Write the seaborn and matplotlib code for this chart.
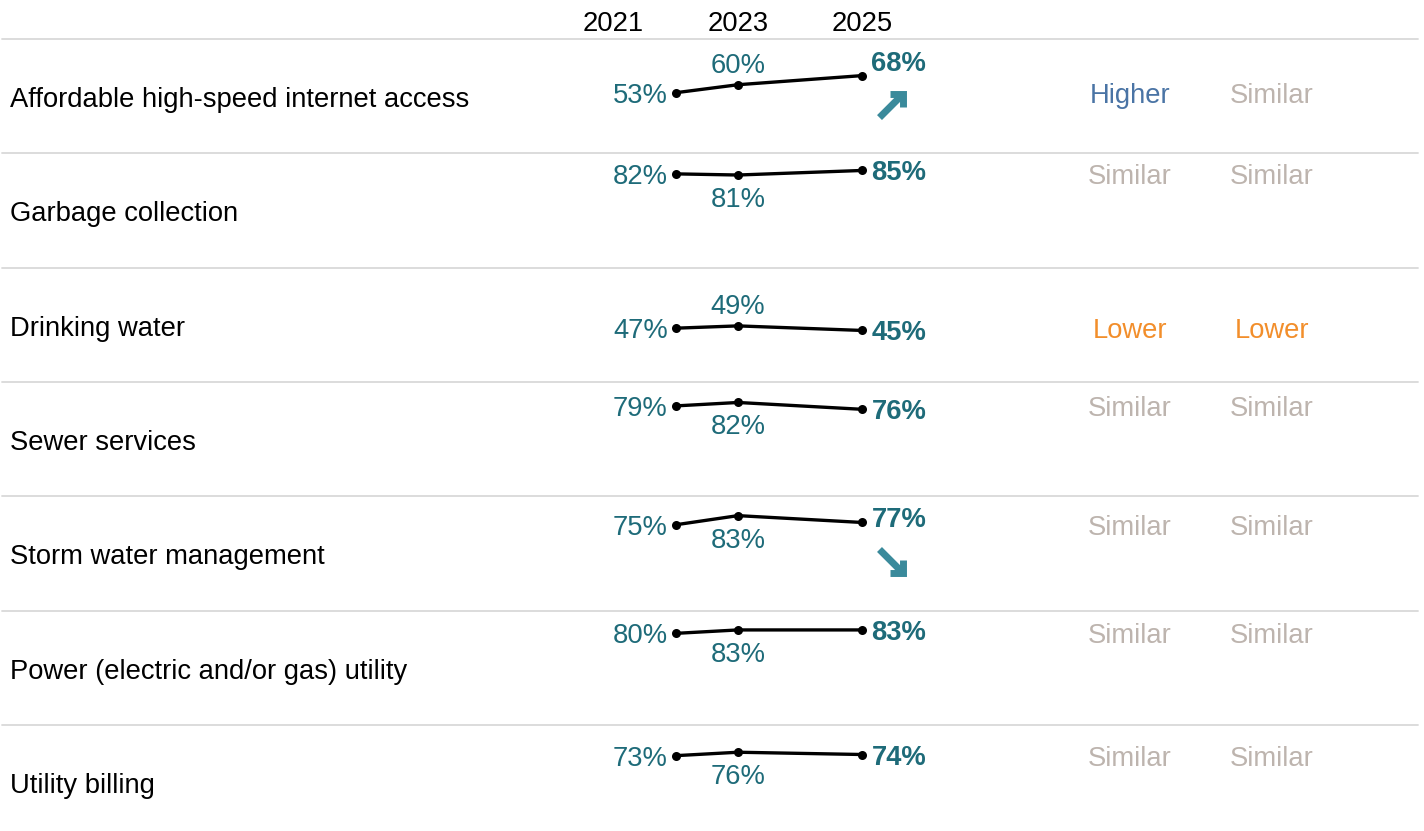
import matplotlib
matplotlib.use("Agg")
import matplotlib.pyplot as plt
import matplotlib.transforms as mtransforms
import seaborn as sns
import pandas as pd

# data
services = [
    "Affordable high-speed internet access",
    "Garbage collection",
    "Drinking water",
    "Sewer services",
    "Storm water management",
    "Power (electric and/or gas) utility",
    "Utility billing",
]
years = [2021, 2023, 2025]
v2021 = [53, 82, 47, 79, 75, 80, 73]
v2023 = [60, 81, 49, 82, 83, 83, 76]
v2025 = [68, 85, 45, 76, 77, 83, 74]
trend = ["up", None, None, None, "down", None, None]
compare_a = ["Higher", "Similar", "Lower", "Similar", "Similar", "Similar", "Similar"]
compare_b = ["Similar", "Similar", "Lower", "Similar", "Similar", "Similar", "Similar"]

sns.set_theme(style="white")
plt.rcParams["font.family"] = ["Liberation Sans", "DejaVu Sans"]

TEAL = "#1e6b79"
ARROW = "#3a8a9b"
cmp_colors = {"Higher": "#4a74a5", "Similar": "#bdb4ae", "Lower": "#f28e2b"}
FS = 19.7

W, H = 1424, 831
fig = plt.figure(figsize=(W / 100, H / 100), dpi=100)
top_px, row_px = 39, 114.3
px_year = 62.25
xlim = (2023 - 738 / px_year, 2023 + (W - 738) / px_year)

# year header
hdr_ax = fig.add_axes([0, 0, 1, 1], frameon=False)
hdr_ax.set_xlim(xlim)
hdr_ax.axis("off")
hdr = mtransforms.blended_transform_factory(hdr_ax.transData, fig.transFigure)
for y in years:
    hdr_ax.text(y, 1 - 21 / H, str(y), transform=hdr, ha="center", va="center_baseline",
                fontsize=FS, color="black")

label_raise = {"up": 15, "down": 5, None: 0}

for i, name in enumerate(services):
    ax = fig.add_axes([0, 1 - (top_px + row_px * (i + 1)) / H, 1, row_px / H])
    vals = [v2021[i], v2023[i], v2025[i]]
    xs = [years[0] + 1, years[1], years[2]]  # first point shifted to leave room for its label
    df = pd.DataFrame({"year": xs, "value": vals})
    sns.lineplot(data=df, x="year", y="value", ax=ax, color="black", lw=2.4,
                 marker="o", markersize=6.5, markeredgewidth=0)
    ax.set_xlim(xlim)
    ax.set_ylim(0, 100)
    ax.axis("off")
    ax.axhline(100, xmin=2 / W, xmax=1418 / W, color="#d9d9d9", lw=1.3, clip_on=False)

    ax.annotate(name, xy=(10 / W, 0.5), xycoords="axes fraction", xytext=(0, -1),
                textcoords="offset pixels", ha="left", va="center_baseline",
                fontsize=FS, color="black")

    ax.annotate(f"{vals[0]}%", xy=(xs[0], vals[0]), xytext=(-8, 0),
                textcoords="offset pixels", ha="right", va="center_baseline",
                fontsize=FS, color=TEAL)
    dy = 22 if vals[1] < 70 else -22
    ax.annotate(f"{vals[1]}%", xy=(xs[1], vals[1]), xytext=(0, dy),
                textcoords="offset pixels", ha="center", va="center_baseline",
                fontsize=FS, color=TEAL)
    ax.annotate(f"{vals[2]}%", xy=(xs[2], vals[2]), xytext=(9, label_raise[trend[i]]),
                textcoords="offset pixels", ha="left", va="center_baseline",
                fontsize=FS, color=TEAL, fontweight="bold")

    if trend[i] is not None:
        if trend[i] == "up":
            tail, head = (17, -42), (44, -15)
        else:
            tail, head = (17, -27), (44, -54)
        head_tr = mtransforms.offset_copy(ax.transData, fig=fig, x=head[0], y=head[1], units="dots")
        tail_tr = mtransforms.offset_copy(ax.transData, fig=fig, x=tail[0], y=tail[1], units="dots")
        ax.annotate("", xy=(xs[2], vals[2]), xycoords=head_tr,
                    xytext=(xs[2], vals[2]), textcoords=tail_tr,
                    arrowprops=dict(arrowstyle="->,head_length=0.55,head_width=0.55",
                                    color=ARROW, lw=5.0, shrinkA=0, shrinkB=0,
                                    joinstyle="miter", capstyle="butt"))

    blend = mtransforms.blended_transform_factory(ax.transAxes, ax.transData)
    ax.text(1130 / W, vals[0], compare_a[i], transform=blend, ha="center",
            va="center_baseline", fontsize=FS, color=cmp_colors[compare_a[i]])
    ax.text(1272 / W, vals[0], compare_b[i], transform=blend, ha="center",
            va="center_baseline", fontsize=FS, color=cmp_colors[compare_b[i]])

fig.savefig("out.png", dpi=100, facecolor="white")
